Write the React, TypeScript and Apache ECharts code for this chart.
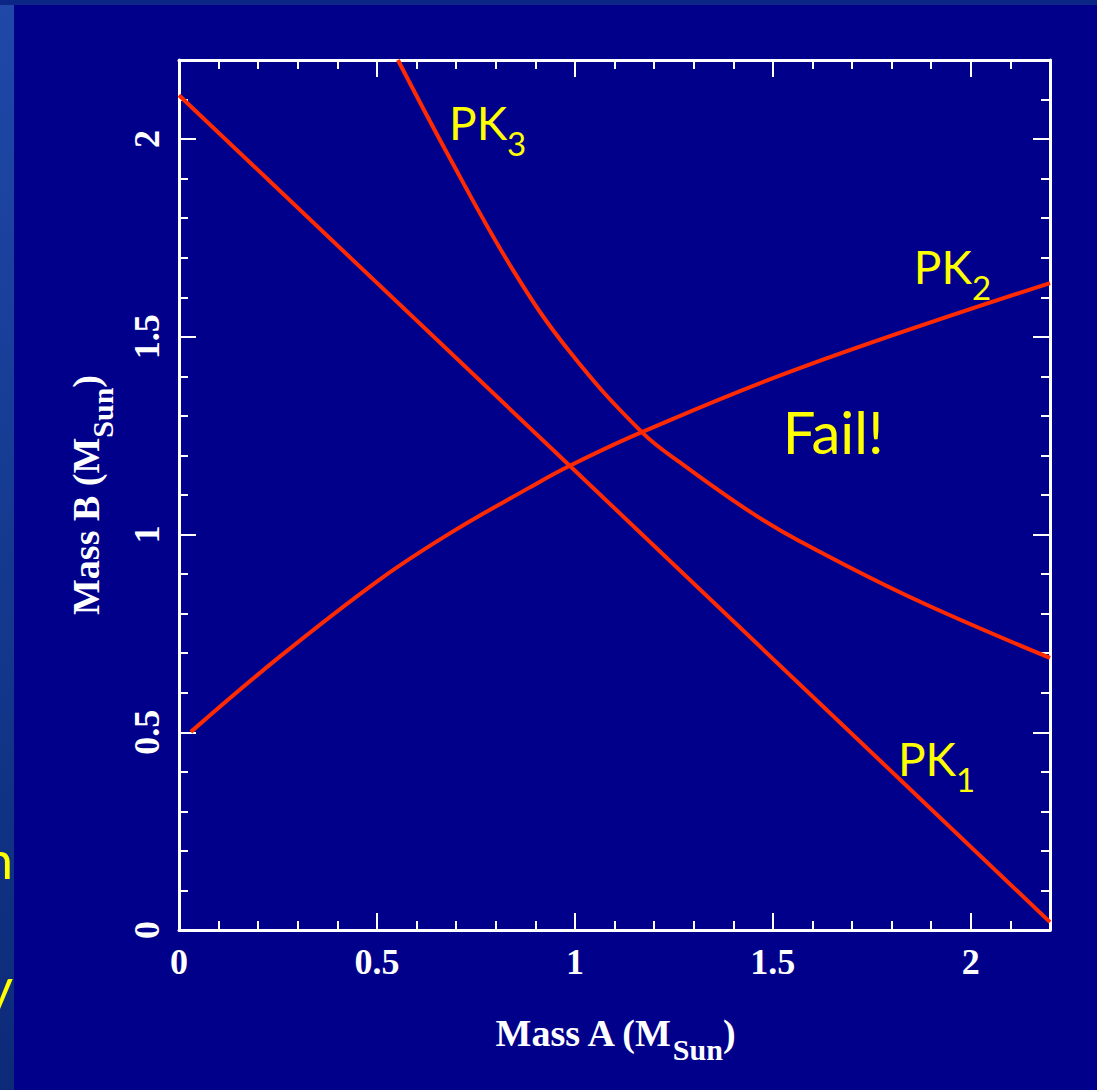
import React, { useEffect, useRef } from "react";
import * as echarts from "echarts";

// ---- data ----
const pk1X = [0, 0.987, 2.2];
const pk1Y = [2.111, 1.174, 0.02];

const pk2X = [0.03, 0.253, 0.505, 0.684, 0.884, 0.987, 1.169, 1.568, 2.2];
const pk2Y = [0.501, 0.69, 0.885, 1.003, 1.118, 1.174, 1.259, 1.421, 1.636];

const pk3X = [0.553, 0.677, 0.843, 0.987, 1.169, 1.273, 1.442, 1.568, 1.846, 2.2];
const pk3Y = [2.2, 1.965, 1.67, 1.462, 1.259, 1.177, 1.058, 0.983, 0.842, 0.688];

const seriesNames = ["PK1", "PK2", "PK3"];
const labelSubs = ["1", "2", "3"];
// top-left anchor of each curve label, in data units
const labelX = [1.816, 1.856, 0.682];
const labelY = [0.491, 1.735, 2.1];

const failText = "Fail!";
const failX = 1.525;
const failY = 1.333;

const axisMin = 0;
const axisMax = 2.2;
const majorStep = 0.5;
const minorSplit = 5;

const xName = ["Mass A (M", "Sun", ")"];
const yName = ["Mass B (M", "Sun", ")"];

// ---- styles ----
const BG = "#00008b";
const RED = "#ff2a00";
const YELLOW = "#ffff00";
const WHITE = "#ffffff";
const SERIF = "'Liberation Serif', 'DejaVu Serif', serif";
const SANS = "Lato, 'Open Sans', 'Noto Sans', sans-serif";

const zip = (xs: number[], ys: number[]) => xs.map((x, i) => [x, ys[i]]);

const nameRich = {
  a: { fontFamily: SERIF, fontWeight: "bold", fontSize: 38, color: WHITE, lineHeight: 44, verticalAlign: "top" },
  b: { fontFamily: SERIF, fontWeight: "bold", fontSize: 30, color: WHITE, lineHeight: 32, verticalAlign: "top", padding: [20, 0, 0, 0] },
};

const pkRich = {
  m: { fontFamily: SANS, fontSize: 46, color: YELLOW, lineHeight: 50, verticalAlign: "top" },
  s: { fontFamily: SANS, fontSize: 33, color: YELLOW, lineHeight: 36, verticalAlign: "top", padding: [27, 0, 0, 0] },
  f: { fontFamily: SANS, fontSize: 58, color: YELLOW, lineHeight: 70, verticalAlign: "top" },
};

function frameAxis(position: string, withLabels: boolean, isY: boolean, name?: string[]) {
  const ax: any = {
    type: "value",
    position,
    min: axisMin,
    max: axisMax,
    interval: majorStep,
    axisLine: { show: true, onZero: false, lineStyle: { color: WHITE, width: 3 } },
    axisTick: { show: true, inside: true, length: 17, lineStyle: { color: WHITE, width: 2 } },
    minorTick: { show: true, splitNumber: minorSplit, length: 9, lineStyle: { color: WHITE, width: 2 } },
    axisLabel: {
      show: withLabels,
      showMaxLabel: false,
      color: WHITE,
      fontFamily: SERIF,
      fontWeight: "bold",
      fontSize: 36,
      margin: 14,
      rotate: isY ? 90 : 0,
    },
    splitLine: { show: false },
    minorSplitLine: { show: false },
  };
  if (name) {
    ax.name = `{a|${name[0]}}{b|${name[1]}}{a|${name[2]}}`;
    ax.nameLocation = "middle";
    ax.nameGap = isY ? 68 : 84;
    ax.nameTextStyle = { rich: nameRich };
  }
  return ax;
}

function curveLabel(i: number) {
  return {
    symbol: "circle",
    symbolSize: 0,
    silent: true,
    data: [
      {
        coord: [labelX[i], labelY[i]],
        label: {
          show: true,
          position: [0, 0],
          formatter: `{m|PK}{s|${labelSubs[i]}}`,
          rich: pkRich,
        },
      },
    ],
  };
}

export default function App() {
  const ref = useRef<HTMLDivElement>(null);
  useEffect(() => {
    if (!ref.current) return;
    const chart = echarts.init(ref.current, undefined, { renderer: "svg" });
    const xs = [pk1X, pk2X, pk3X];
    const ys = [pk1Y, pk2Y, pk3Y];
    const series: any[] = seriesNames.map((n, i) => ({
      name: n,
      type: "line",
      xAxisIndex: 0,
      yAxisIndex: 0,
      data: zip(xs[i], ys[i]),
      symbol: "none",
      showSymbol: false,
      smooth: i === 0 ? false : 0.4,
      lineStyle: { color: RED, width: 4 },
      markPoint: curveLabel(i),
      z: 3,
    }));
    series[1].markPoint.data.push({
      coord: [failX, failY],
      label: { show: true, position: [0, 0], formatter: `{f|${failText}}`, rich: pkRich },
    });

    chart.setOption({
      animation: false,
      backgroundColor: BG,
      grid: { left: 179, right: 47, top: 60, bottom: 160 },
      xAxis: [frameAxis("bottom", true, false, xName), frameAxis("top", false, false)],
      yAxis: [frameAxis("left", true, true, yName), frameAxis("right", false, true)],
      series,
      graphic: [
        {
          type: "rect",
          shape: { x: 0, y: 0, width: 14, height: 1090 },
          style: {
            fill: new echarts.graphic.LinearGradient(0, 0, 0, 1, [
              { offset: 0, color: "#1f48a8" },
              { offset: 0.5, color: "#143a90" },
              { offset: 1, color: "#0c2a78" },
            ]),
          },
          z: 0,
        },
        { type: "rect", shape: { x: 0, y: 0, width: 1097, height: 5 }, style: { fill: "#0b2684" }, z: 0 },
        { type: "text", x: 13, y: 885, style: { text: "n", fill: YELLOW, font: `52px ${SANS}`, textAlign: "right", textVerticalAlign: "bottom" }, z: 1 },
        { type: "text", x: 13, y: 960, style: { text: "y", fill: YELLOW, font: `52px ${SANS}`, textAlign: "right", textVerticalAlign: "alphabetic" }, z: 1 },
      ],
    });
    return () => chart.dispose();
  }, []);
  return <div ref={ref} style={{ position: "fixed", left: 0, top: 0, width: 1097, height: 1090 }} />;
}
